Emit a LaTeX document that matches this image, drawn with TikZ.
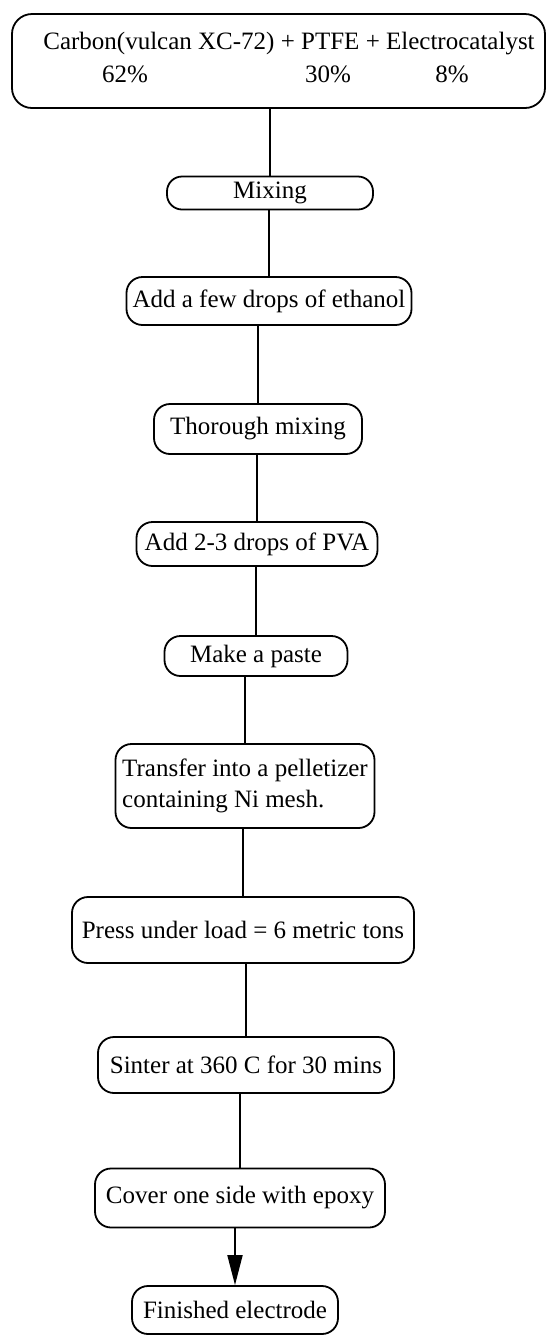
\documentclass[tikz,border=0pt]{standalone}
\usepackage{fontspec}
\setmainfont{Liberation Serif}
\usetikzlibrary{arrows.meta}
\tikzset{
  inputNode/.style={rectangle, rounded corners=10pt, draw, line width=0.9pt, inner sep=0pt},
  procNode/.style={rectangle, rounded corners=8pt, draw, line width=0.9pt, inner sep=0pt},
  flowLine/.style={line width=0.9pt},
  flowArrow/.style={line width=0.9pt, -{Triangle[length=15pt,width=7.5pt]}}
}
\begin{document}
\begin{tikzpicture}[x=0.5pt, y=-0.5pt, font=\fontsize{12.5}{15.5}\selectfont]
  \useasboundingbox (0,0) rectangle (547,1335);
  \node [inputNode, minimum width=266.5pt, minimum height=47pt] (raw) at (278.5,61) {};
  \node (rawTxt) at (289,44) {Carbon(vulcan XC-72) + PTFE + Electrocatalyst};
  \node (pctCarbon) at (125,74) {62\%};
  \node (pctPtfe) at (328,74) {30\%};
  \node (pctCat) at (452,74) {8\%};
  \node [procNode, rounded corners=7.5pt, minimum width=103pt, minimum height=16.5pt] (mix) at (270,193) {Mixing};
  \node [procNode, minimum width=142.5pt, minimum height=24pt] (ethanol) at (269,301) {Add a few drops of ethanol};
  \node [procNode, minimum width=104pt, minimum height=25pt] (thorough) at (258,429) {Thorough mixing};
  \node [procNode, minimum width=120.5pt, minimum height=22pt] (pva) at (257,544) {Add 2-3 drops of PVA};
  \node [procNode, minimum width=91.5pt, minimum height=20pt] (paste) at (256,656) {Make a paste};
  \node [procNode, minimum width=129.5pt, minimum height=42pt, inner xsep=3pt, align=left] (transfer) at (245,786)
    {Transfer into a pelletizer\\containing Ni mesh.};
  \node [procNode, minimum width=171pt, minimum height=33pt] (press) at (243,930) {Press under load = 6 metric tons};
  \node [procNode, minimum width=148pt, minimum height=28pt] (sinter) at (246,1065) {Sinter at 360 C for 30 mins};
  \node [procNode, minimum width=145pt, minimum height=29.5pt] (cover) at (240,1198) {Cover one side with epoxy};
  \node [procNode, minimum width=103pt, minimum height=24pt] (done) at (235,1310) {Finished electrode};
  \foreach \a/\b in {raw/mix, mix/ethanol, ethanol/thorough, thorough/pva, pva/paste,
                     paste/transfer, transfer/press, press/sinter, sinter/cover}
    \draw [flowLine] (\b.north |- \a.south) -- (\b.north);
  \draw [flowArrow] (done.north |- cover.south) -- (done.north);
\end{tikzpicture}
\end{document}
